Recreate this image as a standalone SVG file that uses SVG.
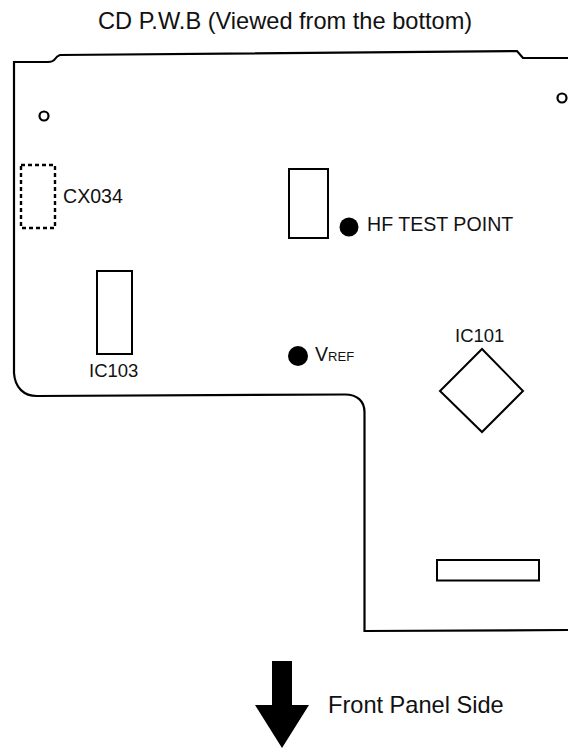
<svg xmlns="http://www.w3.org/2000/svg" width="568" height="748" viewBox="0 0 568 748">
<style>
text{font-family:"Liberation Sans",Arial,sans-serif;fill:#111;font-size:19.6px}
.big{font-size:23.6px}
.o{fill:none;stroke:#000;stroke-width:2.2}
.t{fill:none;stroke:#000;stroke-width:2}
.d{fill:#000}
</style>
<rect width="568" height="748" fill="#fff"/>
<text class="big" x="98" y="29">CD P.W.B (Viewed from the bottom)</text>
<g id="board"><path class="o" d="M568 58H523L517 51L60 55Q57 56 55 59 Q53 62 48 62H14V373C15 388 24 396 37 396L345 394.500C357 394.500 364.500 401 364.500 412V631L568 630"/></g>
<g id="hole1"><circle class="o" cx="44" cy="116" r="4.500" stroke-width="2.600"/></g>
<g id="hole2"><circle class="o" cx="562" cy="98" r="4.500" stroke-width="2.600"/></g>
<g id="cx034"><rect x="21" y="165" width="34" height="63" fill="none" stroke="#000" stroke-width="2.400" stroke-dasharray="4 3"/><text x="63" y="203">CX034</text></g>
<g id="ic-top"><rect class="t" x="289" y="169" width="39" height="69"/></g>
<g id="hf-test-point"><circle class="d" cx="349" cy="227" r="9.500"/><text x="367" y="231">HF TEST POINT</text></g>
<g id="ic103"><rect class="t" x="97" y="271" width="35" height="83"/><text x="89" y="377" style="font-size:18.5px">IC103</text></g>
<g id="vref"><circle class="d" cx="298" cy="356" r="10"/><text x="315" y="361">V<tspan style="font-size:13px">REF</tspan></text></g>
<g id="ic101"><path class="t" d="M482 349L523 391L482 432L440 391Z"/><text x="455" y="342" style="font-size:18.5px">IC101</text></g>
<g id="connector"><rect class="t" x="437" y="560" width="102" height="20.500"/></g>
<g id="front-panel-arrow"><path class="d" d="M272 661H292V705H309L282 748L255 705H272Z"/><text class="big" x="328" y="713">Front Panel Side</text></g>
</svg>
